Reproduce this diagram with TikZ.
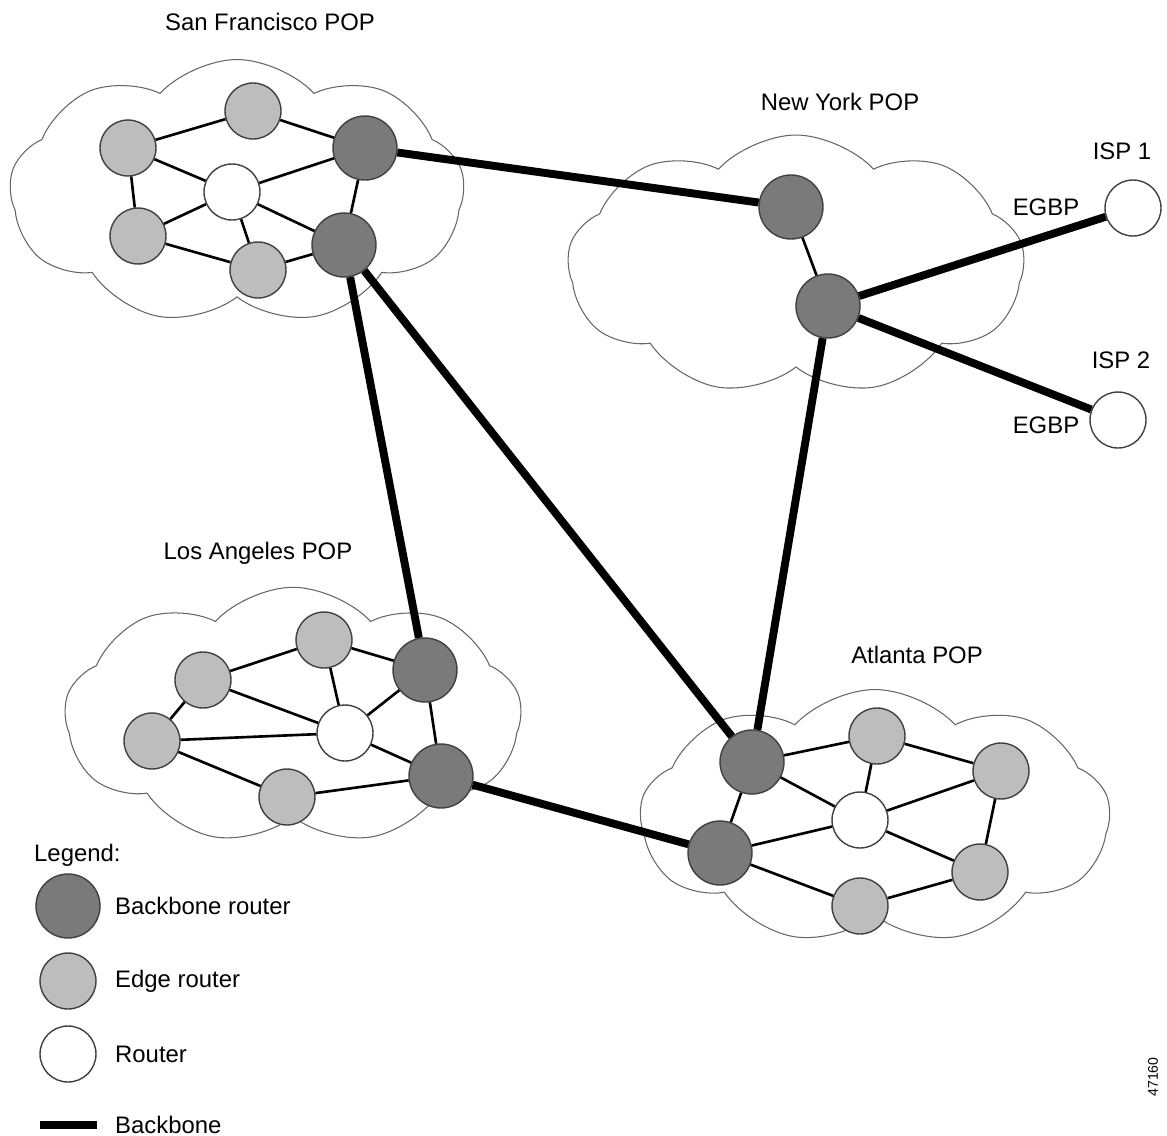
\documentclass[tikz,border=0pt]{standalone}
\usepackage{fontspec}
\setmainfont{Liberation Sans}
\usetikzlibrary{shapes.symbols}

\begin{document}
\begin{tikzpicture}[x=0.02cm, y=-0.02cm,
    font=\fontsize{13.6}{16}\selectfont,
    bbrouter/.style={circle, draw=black!75, line width=0.8pt, fill=black!52, minimum size=1.28cm, inner sep=0pt},
    edgerouter/.style={circle, draw=black!75, line width=0.8pt, fill=black!26, minimum size=1.12cm, inner sep=0pt},
    plainrouter/.style={circle, draw=black!75, line width=0.8pt, fill=white, minimum size=1.12cm, inner sep=0pt},
    pop/.style={cloud, cloud puffs=9, cloud puff arc=95, cloud ignores aspect, draw=black!60, line width=0.6pt, fill=white, inner sep=0pt},
    link/.style={line width=1.5pt},
    backbone/.style={line width=4.5pt}]
    \useasboundingbox (0,0) rectangle (1167,1136);

    % clouds
    \node[pop, minimum width=9.1cm, minimum height=5.3cm] (sfcloud) at (237,192) {};
    \node[pop, minimum width=9.14cm, minimum height=5.2cm] (nycloud) at (796,265) {};
    \node[pop, minimum width=9.14cm, minimum height=5.15cm] (lacloud) at (293,716) {};
    \node[pop, minimum width=9.4cm, minimum height=5.1cm] (atlcloud) at (875,817) {};

    % titles
    \node (sftitle) at (270,22) {San Francisco POP};
    \node (nytitle) at (840,102) {New York POP};
    \node (latitle) at (258,553) {Los Angeles POP};
    \node (atltitle) at (917,655) {Atlanta POP};

    % San Francisco
    \node[edgerouter] (sftop) at (253,111) {};
    \node[edgerouter] (sfleft) at (128,148) {};
    \node[bbrouter] (sfbb1) at (365,148) {};
    \node[plainrouter] (sfr) at (232,192) {};
    \node[edgerouter] (sflow) at (138,236) {};
    \node[edgerouter] (sfbot) at (258,270) {};
    \node[bbrouter] (sfbb2) at (344,245) {};

    % New York
    \node[bbrouter] (nybb1) at (791,207) {};
    \node[bbrouter] (nybb2) at (828,306) {};
    \node[plainrouter] (isp1) at (1133,208) {};
    \node[plainrouter] (isp2) at (1118,420) {};
    \node (isp1label) at (1122,151) {ISP 1};
    \node (isp2label) at (1121,360) {ISP 2};
    \node (egbp1) at (1046,207) {EGBP};
    \node (egbp2) at (1046,425) {EGBP};

    % Los Angeles
    \node[edgerouter] (latop) at (324,640) {};
    \node[edgerouter] (laup) at (203,680) {};
    \node[edgerouter] (laleft) at (152,741) {};
    \node[plainrouter] (lar) at (345,733) {};
    \node[bbrouter] (labb1) at (425,670) {};
    \node[bbrouter] (labb2) at (441,776) {};
    \node[edgerouter] (labot) at (287,797) {};

    % Atlanta
    \node[bbrouter] (atlbb1) at (752,762) {};
    \node[bbrouter] (atlbb2) at (720,853) {};
    \node[edgerouter] (atltop) at (877,736) {};
    \node[edgerouter] (atlright) at (1001,771) {};
    \node[plainrouter] (atlr) at (860,820) {};
    \node[edgerouter] (atllow) at (980,872) {};
    \node[edgerouter] (atlbot) at (860,906) {};

    % links inside the POPs
    \draw[link] (sfleft) -- (sftop) -- (sfbb1) -- (sfbb2) -- (sfbot) -- (sflow) -- (sfleft);
    \draw[link] (sfr) -- (sfleft);
    \draw[link] (sfr) -- (sfbb1);
    \draw[link] (sfr) -- (sflow);
    \draw[link] (sfr) -- (sfbot);
    \draw[link] (sfr) -- (sfbb2);

    \draw[link] (nybb1) -- (nybb2);

    \draw[link] (laleft) -- (laup) -- (latop) -- (labb1) -- (labb2) -- (labot) -- (laleft);
    \draw[link] (lar) -- (laup);
    \draw[link] (lar) -- (latop);
    \draw[link] (lar) -- (laleft);
    \draw[link] (lar) -- (labb1);
    \draw[link] (lar) -- (labb2);

    \draw[link] (atlbb2) -- (atlbb1) -- (atltop) -- (atlright) -- (atllow) -- (atlbot) -- (atlbb2);
    \draw[link] (atlr) -- (atlbb1);
    \draw[link] (atlr) -- (atltop);
    \draw[link] (atlr) -- (atlright);
    \draw[link] (atlr) -- (atllow);
    \draw[link] (atlr) -- (atlbb2);

    % backbone
    \draw[backbone] (sfbb1) -- (nybb1);
    \draw[backbone] (sfbb2) -- (labb1);
    \draw[backbone] (sfbb2) -- (atlbb1);
    \draw[backbone] (nybb2) -- (atlbb1);
    \draw[backbone] (labb2) -- (atlbb2);
    \draw[backbone] (nybb2) -- (isp1);
    \draw[backbone] (nybb2) -- (isp2);

    % legend
    \node[anchor=west] (legend) at (28,855) {Legend:};
    \node[bbrouter] (legbb) at (68,906) {};
    \node[anchor=west] (legbbtext) at (109,906) {Backbone router};
    \node[edgerouter] (legedge) at (68,981) {};
    \node[anchor=west] (legedgetext) at (109,981) {Edge router};
    \node[plainrouter] (legr) at (68,1054) {};
    \node[anchor=west] (legrtext) at (109,1054) {Router};
    \coordinate (legstart) at (40,1125);
    \coordinate (legend end) at (97,1125);
    \draw[backbone] (legstart) -- (legend end);
    \node[anchor=west] (legbbline) at (109,1125) {Backbone};

    \node[rotate=90, font=\fontsize{8}{9}\selectfont] (fignum) at (1153,1077) {47160};
\end{tikzpicture}
\end{document}
